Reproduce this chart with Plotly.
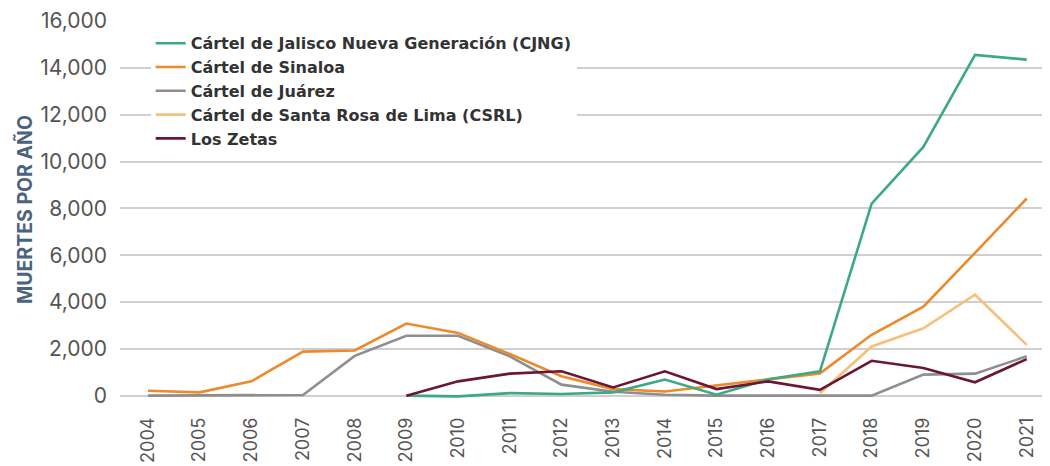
import plotly.graph_objects as go

years = list(range(2004, 2022))

cjng_years = list(range(2009, 2022))
cjng = [0, -30, 110, 70, 140, 690, 40, 700, 1040, 8200, 10620, 14550, 14350]

sinaloa = [210, 140, 610, 1880, 1930, 3080, 2680, 1780, 830, 280, 180, 430, 680, 950, 2600, 3800, 6100, 8420]

juarez = [0, 0, 0, 30, 1700, 2560, 2560, 1680, 470, 170, 40, 0, 0, 0, 0, 900, 940, 1680]

csrl_years = list(range(2017, 2022))
csrl = [100, 2100, 2880, 4310, 2170]

zetas_years = list(range(2009, 2022))
zetas = [0, 610, 940, 1040, 350, 1040, 280, 610, 250, 1490, 1180, 570, 1560]

y_ticks = [0, 2000, 4000, 6000, 8000, 10000, 12000, 14000, 16000]
y_tick_labels = ["0", "2,000", "4,000", "6,000", "8,000", "10,000", "12,000", "14,000", "16,000"]

names = [
    "Cártel de Jalisco Nueva Generación (CJNG)",
    "Cártel de Sinaloa",
    "Cártel de Juárez",
    "Cártel de Santa Rosa de Lima (CSRL)",
    "Los Zetas",
]
colors = ["#3BAA84", "#EC8A2E", "#8E8E8E", "#F5C07C", "#6B1634"]

series = [
    (cjng_years, cjng),
    (years, sinaloa),
    (years, juarez),
    (csrl_years, csrl),
    (zetas_years, zetas),
]

fig = go.Figure()
draw_order = [2, 3, 1, 0, 4]
for i in draw_order:
    xs, ys = series[i]
    fig.add_trace(go.Scatter(
        x=xs, y=ys, mode="lines", name=names[i],
        line=dict(color=colors[i], width=2.6),
        legendrank=i + 1,
    ))

fig.update_layout(
    width=1050, height=466,
    margin=dict(l=112, r=8, t=13, b=76),
    paper_bgcolor="white", plot_bgcolor="white",
    font=dict(family="Inter, Lato, sans-serif", color="#555555"),
    showlegend=True,
    legend=dict(
        x=0.033, y=0.986, xanchor="left", yanchor="top",
        bgcolor="white",
        font=dict(family="DejaVu Sans", size=16, color="#333333", weight="bold"),
        traceorder="normal",
        itemwidth=30,
        tracegroupgap=0,
    ),
    xaxis=dict(
        range=[2003.46, 2021.45],
        tickmode="array", tickvals=years, ticktext=[str(y) for y in years],
        tickangle=-90,
        tickfont=dict(size=18, color="#555555"),
        showgrid=False, zeroline=False, showline=False,
        ticks="", ticklabelstandoff=15,
        fixedrange=True, automargin=False,
    ),
    yaxis=dict(
        range=[-100, 16000],
        tickmode="array", tickvals=y_ticks, ticktext=y_tick_labels,
        tickfont=dict(size=21, color="#555555"),
        showgrid=True, gridcolor="#CFCFCF", gridwidth=1.5,
        zeroline=False, showline=False, ticks="",
        ticklabelstandoff=12, automargin=False,
        title=dict(text="MUERTES POR AÑO", font=dict(size=19.5, color="#4A6480", weight="bold"), standoff=2),
    ),
)

fig.write_html("out.html")
